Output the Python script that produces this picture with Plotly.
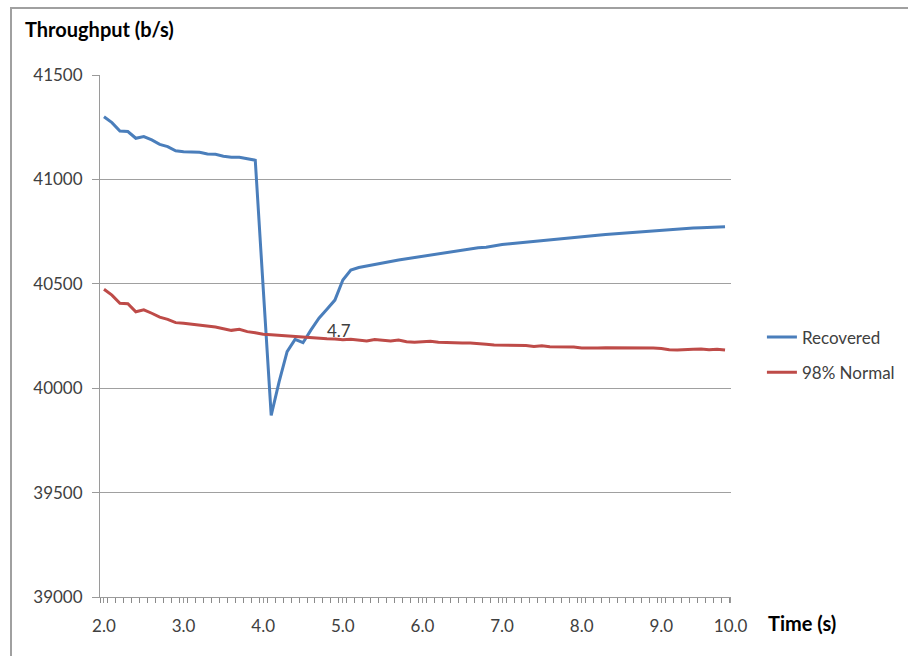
import plotly.graph_objects as go

time_s = [2.0, 2.1, 2.2, 2.3, 2.4, 2.5, 2.6, 2.7, 2.8, 2.9,
          3.0, 3.1, 3.2, 3.3, 3.4, 3.5, 3.6, 3.7, 3.8, 3.9,
          4.0, 4.1, 4.2, 4.3, 4.4, 4.5, 4.6, 4.7, 4.8, 4.9,
          5.0, 5.1, 5.2, 5.3, 5.4, 5.5, 5.6, 5.7, 5.8, 5.9,
          6.0, 6.1, 6.2, 6.3, 6.4, 6.5, 6.6, 6.7, 6.8, 6.9,
          7.0, 7.1, 7.2, 7.3, 7.4, 7.5, 7.6, 7.7, 7.8, 7.9,
          8.0, 8.1, 8.2, 8.3, 8.4, 8.5, 8.6, 8.7, 8.8, 8.9,
          9.0, 9.1, 9.2, 9.3, 9.4, 9.5, 9.6, 9.7, 9.8]

recovered = [41300, 41272, 41232, 41229, 41197, 41205, 41189, 41168, 41157, 41137,
             41133, 41133, 41130, 41122, 41120, 41111, 41106, 41106, 41098, 41092,
             40478, 39870, 40031, 40175, 40234, 40218, 40279, 40335, 40378, 40422,
             40518, 40566, 40578, 40586, 40594, 40600, 40607, 40614, 40620, 40628,
             40634, 40639, 40644, 40649, 40656, 40661, 40668, 40673, 40675, 40682,
             40688, 40692, 40696, 40700, 40704, 40708, 40710, 40714, 40718, 40722,
             40726, 40729, 40733, 40736, 40739, 40742, 40745, 40747, 40751, 40754,
             40756, 40759, 40762, 40764, 40767, 40768, 40770, 40772, 40773]

normal98 = [40474, 40446, 40407, 40405, 40366, 40375, 40359, 40340, 40330, 40314,
            40311, 40306, 40304, 40298, 40293, 40285, 40277, 40282, 40271, 40266,
            40258, 40256, 40253, 40252, 40250, 40247, 40242, 40239, 40237, 40236,
            40232, 40234, 40230, 40226, 40233, 40228, 40226, 40231, 40223, 40220,
            40222, 40225, 40220, 40220, 40218, 40217, 40216, 40215, 40211, 40207,
            40207, 40206, 40204, 40204, 40200, 40203, 40199, 40199, 40199, 40197,
            40192, 40191, 40193, 40194, 40194, 40194, 40194, 40194, 40194, 40192,
            40190, 40184, 40183, 40183, 40186, 40188, 40184, 40187, 40183]

x_tick_vals = [2, 3, 4, 5, 6, 7, 8, 9, 9.87]
x_tick_text = ["2.0", "3.0", "4.0", "5.0", "6.0", "7.0", "8.0", "9.0", "10.0"]
y_tick_vals = [39000, 39500, 40000, 40500, 41000, 41500]
y_tick_text = ["39000", "39500", "40000", "40500", "41000", "41500"]

crossing_label = "4.7"
crossing_x = 4.95
crossing_y = 40274

FONT = "Lato"
GRAY_TXT = "#404040"
AXIS_GRAY = "#9a9a9a"

fig = go.Figure()
fig.add_trace(go.Scatter(x=time_s, y=recovered, mode="lines", name="Recovered",
                         line=dict(color="#4A7EBB", width=3), legendgroup="a"))
fig.add_trace(go.Scatter(x=time_s, y=normal98, mode="lines", name="98% Normal",
                         line=dict(color="#BE4B48", width=3), legendgroup="b"))

fig.update_layout(
    width=908, height=656,
    margin=dict(l=100, r=177, t=75, b=59, autoexpand=False),
    paper_bgcolor="white", plot_bgcolor="white",
    font=dict(family=FONT, size=17, color=GRAY_TXT),
    title=dict(text="<b>Throughput (b/s)</b>", x=25/908, xanchor="left",
               y=1-30/656, yanchor="middle", font=dict(family=FONT, size=20, color="#000000")),
    xaxis=dict(range=[1.95, 9.875], tickmode="array", tickvals=x_tick_vals, ticktext=x_tick_text,
               showgrid=False, zeroline=False, showline=True, linecolor=AXIS_GRAY, linewidth=1,
               ticks="outside", ticklen=5, tickcolor=AXIS_GRAY, ticklabelstandoff=9,
               minor=dict(tickmode="linear", tick0=1.95, dtick=0.1, ticks="outside",
                          ticklen=5, tickcolor="#8a8a8a", showgrid=False),
               tickfont=dict(family=FONT, size=17, color=GRAY_TXT)),
    yaxis=dict(range=[39000, 41500], tickmode="array", tickvals=y_tick_vals, ticktext=y_tick_text,
               showgrid=True, gridcolor="#a0a0a0", gridwidth=1, zeroline=False,
               showline=True, linecolor=AXIS_GRAY, linewidth=1,
               ticks="outside", ticklen=7, tickcolor=AXIS_GRAY, ticklabelstandoff=6,
               tickfont=dict(family=FONT, size=17, color=GRAY_TXT)),
    legend=dict(x=1.049, xanchor="left", y=0.4636, yanchor="middle",
                font=dict(family=FONT, size=17, color=GRAY_TXT),
                bgcolor="rgba(0,0,0,0)", tracegroupgap=10),
    showlegend=True,
)

fig.add_annotation(x=crossing_x, y=crossing_y, text=crossing_label, showarrow=False,
                   font=dict(family=FONT, size=17, color=GRAY_TXT))
fig.add_annotation(x=(766-100)/631, y=(597-623)/522, xref="paper", yref="paper",
                   text="<b>Time (s)</b>", showarrow=False, xanchor="left", yanchor="middle",
                   font=dict(family=FONT, size=20, color="#000000"))

fig.add_shape(type="rect", xref="paper", yref="paper",
              x0=(11-100)/631, x1=1.5, y0=-0.3, y1=(597-8)/522,
              line=dict(color="#a0a0a0", width=2), fillcolor="rgba(0,0,0,0)", layer="below")

fig.write_html("out.html")
